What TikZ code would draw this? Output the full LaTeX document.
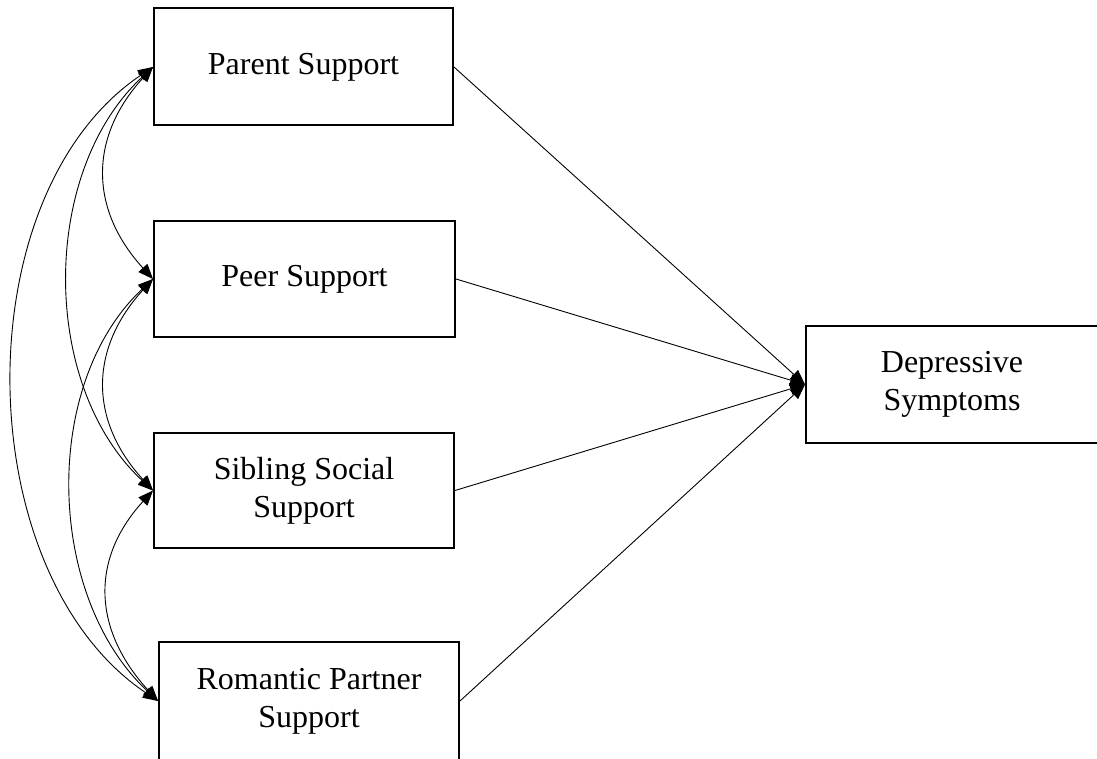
\documentclass[tikz,border=0pt]{standalone}
\usepackage{fontspec}
\setmainfont{Liberation Serif}
\usetikzlibrary{arrows.meta}
\begin{document}
\begin{tikzpicture}[x=1pt,y=-1pt,
  box/.style={draw, line width=2pt, rectangle, align=center, inner sep=0pt,
    font=\fontsize{32}{38}\selectfont},
  link/.style={line width=0.9pt, -{Triangle[length=15pt,width=12pt]}},
  covar/.style={line width=0.9pt, {Triangle[length=15pt,width=12pt]}-{Triangle[length=15pt,width=12pt]}}]
\fill[white] (0,0) rectangle (1097,759);
\useasboundingbox (0,0) rectangle (1097,759);
\node[box, minimum width=299pt, minimum height=117pt] (par) at (303.5,67) {Parent Support};
\node[box, minimum width=301pt, minimum height=116pt] (peer) at (304.5,279) {Peer Support};
\node[box, minimum width=300pt, minimum height=115pt] (sib) at (304,490.5) {Sibling Social\\Support};
\node[box, minimum width=300pt, minimum height=118pt] (rom) at (309,701) {Romantic Partner\\Support};
\node[box, minimum width=292pt, minimum height=117pt] (dep) at (952,384.5) {Depressive\\Symptoms};
\draw[link] (par.east) -- (dep.west);
\draw[link] (peer.east) -- (dep.west);
\draw[link] (sib.east) -- (dep.west);
\draw[link] (rom.east) -- (dep.west);
\draw[covar] (par.west) .. controls +(-64,70) and +(-64,-70) .. (peer.west);
\draw[covar] (par.west) .. controls +(-113,105) and +(-113,-105) .. (sib.west);
\draw[covar] (par.west) .. controls +(-190,128) and +(-190,-128) .. (rom.west);
\draw[covar] (peer.west) .. controls +(-64,70) and +(-64,-70) .. (sib.west);
\draw[covar] (peer.west) .. controls +(-112,105) and +(-112,-105) .. (rom.west);
\draw[covar] (sib.west) .. controls +(-64,70) and +(-64,-70) .. (rom.west);
\end{tikzpicture}
\end{document}
